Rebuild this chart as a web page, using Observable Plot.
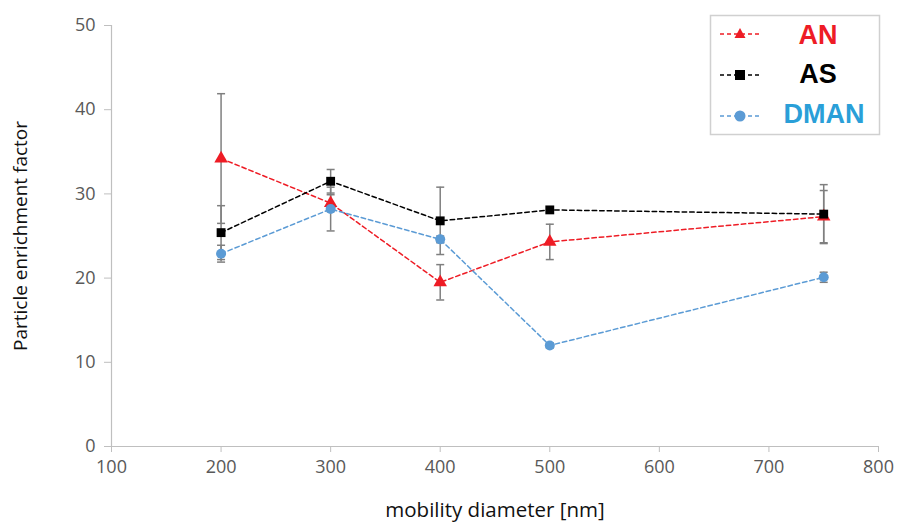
<!DOCTYPE html>
<html>
<head>
<meta charset="utf-8">
<script src="https://cdn.jsdelivr.net/npm/d3@7"></script>
<script src="https://cdn.jsdelivr.net/npm/@observablehq/plot@0.6"></script>
<style>
  html, body { margin: 0; padding: 0; background: #fff; }
  #wrap { position: relative; width: 898px; height: 523px; }
  #legend { position: absolute; left: 0; top: 0; pointer-events: none; }
</style>
</head>
<body>
<div id="wrap"></div>
<script>
const diameters = [200, 300, 400, 500, 750];
const seriesNames = ["AN", "AS", "DMAN"];
const anValues   = [34.2, 28.9, 19.5, 24.3, 27.3];
const anErrors   = [7.7, 1.0, 2.1, 2.1, 3.1];
const asValues   = [25.4, 31.5, 26.8, 28.1, 27.6];
const asErrors   = [3.2, 1.4, 4.0, 0.0, 3.5];
const dmanValues = [22.9, 28.2, 24.6, 12.0, 20.1];
const dmanErrors = [1.0, 2.6, 0.4, 0.3, 0.6];
const xTicks = [100, 200, 300, 400, 500, 600, 700, 800];
const yTicks = [0, 10, 20, 30, 40, 50];

const colors = { AN: "#ee1c25", AS: "#000000", DMAN: "#5b9bd5" };
const textColors = { AN: "#ee1c25", AS: "#000000", DMAN: "#2a9fd8" };
const symbols = { AN: "triangle", AS: "square", DMAN: "circle" };

const valuesBy = { AN: anValues, AS: asValues, DMAN: dmanValues };
const errorsBy = { AN: anErrors, AS: asErrors, DMAN: dmanErrors };
const data = seriesNames.flatMap(s => diameters.map((x, i) => ({
  series: s, x, y: valuesBy[s][i], lo: valuesBy[s][i] - errorsBy[s][i], hi: valuesBy[s][i] + errorsBy[s][i], err: errorsBy[s][i]
})));
const errData = data.filter(d => d.err > 0);

// horizontal cap symbol for error bars
const capSymbol = { draw(ctx, size) { const w = 4; ctx.moveTo(-w, 0); ctx.lineTo(w, 0); } };

const marks = [
  Plot.ruleX(errData, { x: "x", y1: "lo", y2: "hi", stroke: "#7f7f7f", strokeWidth: 1.5 }),
  Plot.dot(errData, { x: "x", y: "lo", symbol: capSymbol, stroke: "#7f7f7f", strokeWidth: 1.5, r: 4 }),
  Plot.dot(errData, { x: "x", y: "hi", symbol: capSymbol, stroke: "#7f7f7f", strokeWidth: 1.5, r: 4 })
];
for (const s of seriesNames) {
  const d = data.filter(v => v.series === s);
  marks.push(Plot.line(d, { x: "x", y: "y", stroke: colors[s], strokeWidth: 1.5, strokeDasharray: "4.5,3" }));
}
for (const s of seriesNames) {
  const d = data.filter(v => v.series === s);
  marks.push(Plot.dot(d, { x: "x", y: "y", symbol: symbols[s], fill: colors[s], stroke: "none", r: 5 }));
}

const chart = Plot.plot({
  width: 898,
  height: 523,
  marginLeft: 111,
  marginRight: 20,
  marginTop: 25,
  marginBottom: 77,
  style: { fontFamily: "'Open Sans', sans-serif", fontSize: "18px", color: "#595959", background: "#fff" },
  x: { domain: [100, 800], ticks: xTicks, tickSize: 6, tickPadding: 8, label: "mobility diameter [nm]", labelArrow: "none", labelAnchor: "center", labelOffset: 70 },
  y: { domain: [0, 50], ticks: yTicks, tickSize: 7, tickPadding: 9, label: "Particle enrichment factor", labelArrow: "none", labelAnchor: "center", labelOffset: 98 },
  marks: [
    Plot.ruleY([0], { stroke: "#bfbfbf", strokeWidth: 1.2 }),
    Plot.ruleX([100], { stroke: "#bfbfbf", strokeWidth: 1.2 }),
    ...marks
  ]
});
chart.querySelectorAll("[aria-label='x-axis tick'] path, [aria-label='y-axis tick'] path").forEach(p => p.setAttribute("stroke", "#bfbfbf"));
chart.querySelectorAll("[aria-label='x-axis tick label'], [aria-label='y-axis tick label']").forEach(g => { g.style.fontSize = "18px"; });
chart.querySelectorAll("[aria-label='x-axis label'], [aria-label='y-axis label']").forEach(g => {
  g.setAttribute("fill", "#111");
  g.style.fontSize = g.getAttribute("aria-label").startsWith("x") ? "20.5px" : "19px";
  g.querySelectorAll("text").forEach(t => { t.textContent = t.textContent.replace(/\s*[→↑←↓]\s*/g, "").trim(); });
});
document.getElementById("wrap").appendChild(chart);

// legend (overlay SVG)
const markerY = [34, 75, 116];
const textY = [34, 73, 113];
let svg = `<svg id="legend" width="898" height="523" xmlns="http://www.w3.org/2000/svg">
  <rect x="710.5" y="15.5" width="169" height="119" fill="#fff" stroke="#d0d0d0" stroke-width="1.5"/>`;
seriesNames.forEach((s, i) => {
  const c = colors[s], y = markerY[i];
  let mk;
  if (s === "AN") mk = `<path d="M740,${y - 6} L745.5,${y + 4} L734.5,${y + 4} Z" fill="${c}"/>`;
  else if (s === "AS") mk = `<rect x="735" y="${y - 5}" width="10" height="10" fill="${c}"/>`;
  else mk = `<circle cx="740" cy="${y}" r="5.5" fill="${c}"/>`;
  svg += `<line x1="720" y1="${y}" x2="759" y2="${y}" stroke="${c}" stroke-width="1.3" stroke-dasharray="4,3"/>${mk}`;
  svg += `<text x="${s === "DMAN" ? 824 : 818}" y="${textY[i]}" dy="0.36em" text-anchor="middle" fill="${textColors[s]}" font-family="'Liberation Sans', Arial, sans-serif" font-weight="bold" font-size="27">${s}</text>`;
});
svg += `</svg>`;
document.getElementById("wrap").insertAdjacentHTML("beforeend", svg);
</script>
</body>
</html>
